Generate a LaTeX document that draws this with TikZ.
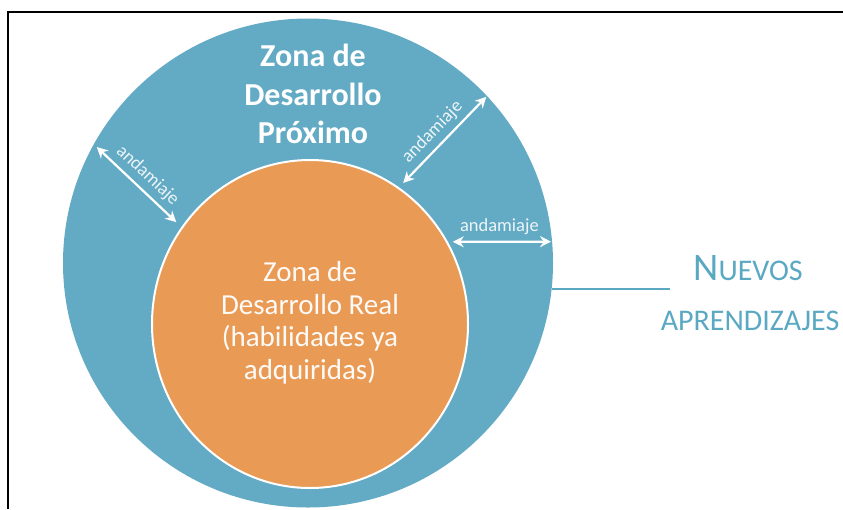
\documentclass[tikz,border=0pt]{standalone}
\usepackage{fontspec}
\setmainfont{Carlito}
\usetikzlibrary{shapes.geometric,arrows.meta}
\definecolor{zdpazul}{RGB}{99,170,196}
\definecolor{zdrnaranja}{RGB}{233,155,85}
\definecolor{textoazul}{RGB}{91,168,195}

\begin{document}
\begin{tikzpicture}[x=1pt,y=-1pt,
    zona/.style={ellipse,inner sep=0pt,outer sep=0pt},
    andamio/.style={{Stealth[length=11pt,width=11pt]}-{Stealth[length=11pt,width=11pt]},white,line width=2.2pt},
    etiqueta/.style={text=white!88!zdpazul,font=\fontsize{18.5}{20}\selectfont,inner sep=1pt},
    leyenda/.style={text=textoazul,anchor=base,font=\fontsize{30}{36}\selectfont}]
  \useasboundingbox (0,0) rectangle (843,509);
  % marco
  \draw[line width=2.2pt] (8,509) -- (8,12) -- (843,12);
  % zonas
  \node[zona,fill=zdpazul,minimum width=490,minimum height=489] (zdp) at (308,263) {};
  \node[zona,fill=zdrnaranja,draw=white,line width=2pt,minimum width=316,minimum height=328] (zdr) at (310,324) {};
  \node[text=white,font=\bfseries\fontsize{32}{38.5}\selectfont,align=center] (tzdp) at (313,94) {Zona de\\Desarrollo\\Próximo};
  \node[text=white!95!zdrnaranja,font=\fontsize{29}{32.5}\selectfont,align=center] (tzdr) at (310,323) {Zona de\\Desarrollo Real\\(habilidades ya\\adquiridas)};
  % andamiajes
  \draw[andamio,shorten <=4pt,shorten >=8pt] (zdp.151) -- (zdr.143) node[etiqueta,midway,sloped,above=4pt] {andamiaje};
  \draw[andamio,shorten <=7pt,shorten >=1pt] (zdr.57) -- (zdp.43) node[etiqueta,midway,sloped,above=4pt] {andamiaje};
  \draw[andamio,shorten <=6pt,shorten >=1pt] (zdr.31) -- (zdp.5) node[etiqueta,midway,above=5pt] {andamiaje};
  % nuevos aprendizajes
  \node[leyenda] (nuevos) at (748,280) {{\fontsize{39}{44}\selectfont N}UEVOS};
  \node[leyenda] (aprendizajes) at (750,330) {APRENDIZAJES};
  \coordinate (finlinea) at (670,290);
  \draw[textoazul,line width=2pt] (zdp.-6) -- (zdp.-6 -| finlinea);
\end{tikzpicture}
\end{document}
